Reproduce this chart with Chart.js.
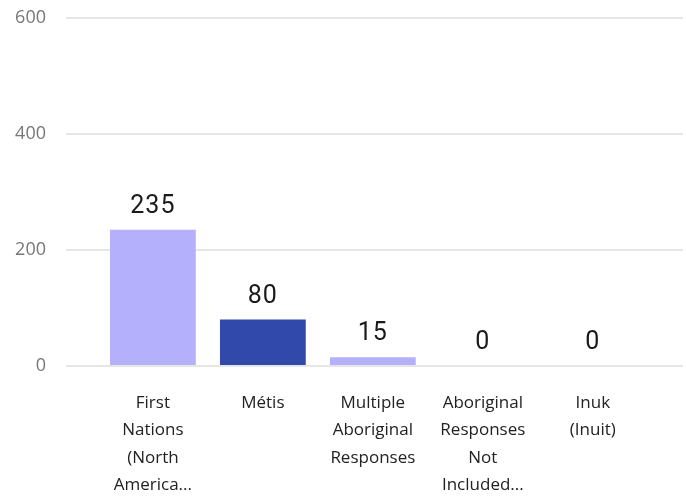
<!DOCTYPE html>
<html>
<head>
<meta charset="utf-8">
<script src="https://cdn.jsdelivr.net/npm/chart.js@4"></script>
<style>
  html, body { margin: 0; padding: 0; background: #fff; }
  #wrap { width: 686px; height: 498px; }
</style>
</head>
<body>
<div id="wrap"><canvas id="origin_chart"></canvas></div>
<script>
// categories and counts
const categories = [
    ['First', 'Nations', '(North', 'America...'],
    ['Métis'],
    ['Multiple', 'Aboriginal', 'Responses'],
    ['Aboriginal', 'Responses', 'Not', 'Included...'],
    ['Inuk', '(Inuit)']
];
const counts = [235, 80, 15, 0, 0];
const barColors = ['#b4b0fc', '#3049aa', '#b4b0fc', '#b4b0fc', '#b4b0fc'];
const yTicks = [0, 200, 400, 600];

// value labels above the bars
const valueLabels = {
    id: 'valueLabels',
    afterDatasetsDraw(chart) {
        const ctx = chart.ctx;
        const meta = chart.getDatasetMeta(0);
        ctx.save();
        ctx.font = '25px Roboto';
        ctx.fillStyle = '#1a1a1a';
        ctx.textAlign = 'center';
        ctx.textBaseline = 'alphabetic';
        if (ctx.letterSpacing !== undefined) ctx.letterSpacing = '1px';
        meta.data.forEach((bar, i) => {
            ctx.fillText(String(counts[i]), bar.x, bar.y - 17);
        });
        ctx.restore();
    }
};

const ctx = document.getElementById('origin_chart').getContext('2d');
const origin_chart = new Chart(ctx, {
    type: 'bar',
    data: {
        datasets: [{
            data: counts.map((v, i) => ({ x: i, y: v })),
            backgroundColor: barColors,
            borderWidth: 0,
            barPercentage: 0.78,
            categoryPercentage: 1
        }]
    },
    options: {
        responsive: true,
        maintainAspectRatio: false,
        animation: false,
        layout: {
            padding: { top: 18, left: 0, right: 3, bottom: 0 }
        },
        plugins: {
            legend: { display: false },
            tooltip: { enabled: false }
        },
        scales: {
            x: {
                type: 'linear',
                offset: false,
                min: -0.79,
                max: 4.82,
                grid: { display: false, drawTicks: false },
                border: { display: false },
                afterBuildTicks: axis => {
                    axis.ticks = categories.map((c, i) => ({ value: i }));
                },
                afterFit: axis => {
                    axis.height = 132;
                    axis.paddingLeft = 0;
                    axis.paddingRight = 0;
                },
                ticks: {
                    autoSkip: false,
                    maxRotation: 0,
                    padding: 23,
                    color: '#222',
                    font: { family: 'Open Sans', size: 17, lineHeight: 1.62 },
                    callback: v => categories[v]
                }
            },
            y: {
                min: 0,
                max: 600,
                afterBuildTicks: axis => {
                    axis.ticks = yTicks.map(v => ({ value: v }));
                },
                afterFit: axis => {
                    axis.width = 66;
                    axis.paddingTop = 0;
                    axis.paddingBottom = 0;
                },
                grid: {
                    color: '#e6e6e6',
                    lineWidth: 2,
                    drawTicks: false
                },
                border: { display: false },
                ticks: {
                    padding: 20,
                    color: '#777',
                    font: { family: 'Open Sans', size: 18 }
                }
            }
        }
    },
    plugins: [valueLabels]
});
</script>
</body>
</html>
